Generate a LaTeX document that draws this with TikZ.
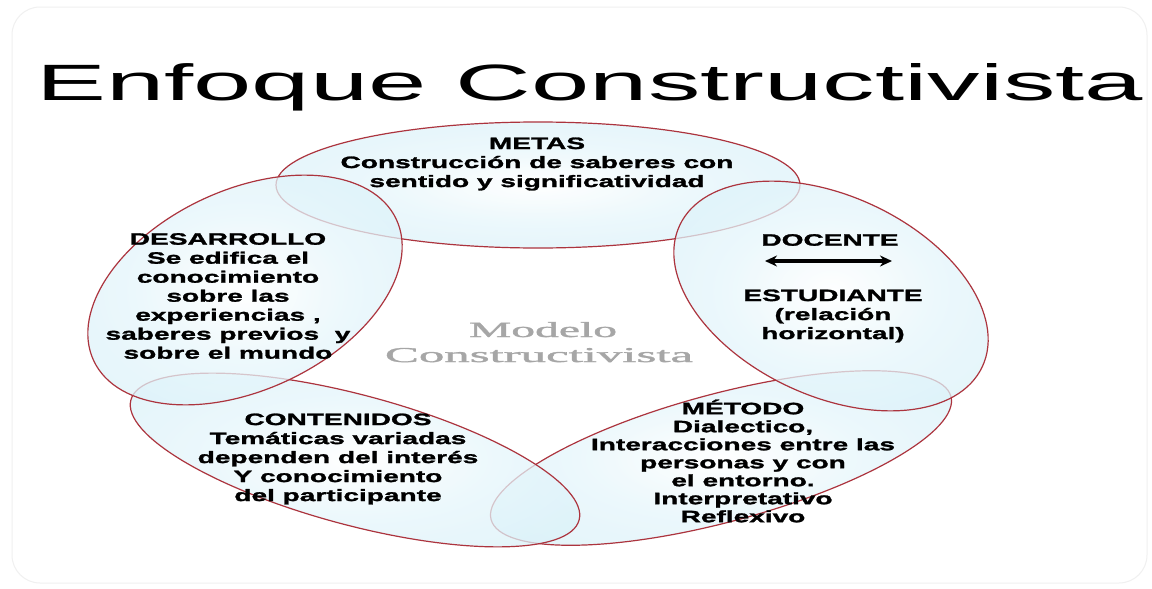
\documentclass[tikz,border=0pt]{standalone}
\usepackage{fontspec}
\usepackage{graphicx}
\usetikzlibrary{shapes.geometric,arrows.meta}
\setmainfont{Liberation Sans}
\newfontfamily\bodyfont[FakeStretch=1.7, FakeBold=1.6]{Liberation Sans Bold}
\newfontfamily\titlefont{Liberation Sans}
\newfontfamily\modelfont[FakeBold=1.2]{Liberation Serif}
\definecolor{ellred}{RGB}{172,52,62}
\definecolor{ellfill}{RGB}{204,236,246}
\definecolor{ellmid}{RGB}{230,246,251}
\pgfdeclareradialshading{ellshade}{\pgfpoint{0bp}{0bp}}{color(0bp)=(white); color(15bp)=(ellmid); color(50bp)=(ellfill); color(70bp)=(ellfill)}
\tikzset{
  ell/.style={ellipse, draw=ellred, line width=1.2pt, shade, shading=ellshade, fill opacity=0.75, draw opacity=1, inner sep=0pt},
  lbl/.style={font=\bodyfont\fontsize{16.5}{19}\selectfont, align=center, inner sep=0pt, text=black},
  modeltxt/.style={inner sep=0pt, anchor=base, text=gray!70},
  dblarrow/.style={line width=3.5pt, {Stealth[length=12pt,width=11pt]}-{Stealth[length=12pt,width=11pt]}}
}
\begin{document}
\begin{tikzpicture}[x=1pt,y=-1pt]
\useasboundingbox (0,0) rectangle (1152,589);
\fill[white] (0,0) rectangle (1152,589);
\draw[gray!12, line width=1pt, rounded corners=28pt] (12,7) rectangle (1147,583);
% title
\node[anchor=base west, inner sep=0pt] (title) at (36,100) {\resizebox{1106pt}{37pt}{\titlefont Enfoque Constructivista}};
% ellipses (bottom to top)
\node[ell, minimum width=524pt, minimum height=126pt] (metas) at (538,185) {};
\node[ell, minimum width=476pt, minimum height=128pt, rotate=15] (metodo) at (721,458) {};
\node[ell, minimum width=464pt, minimum height=130pt, rotate=-15] (contenidos) at (355,460) {};
\node[ell, minimum width=334pt, minimum height=200pt, rotate=-25] (docente) at (831,296) {};
\node[ell, minimum width=334pt, minimum height=200pt, rotate=25] (desarrollo) at (245,290) {};
% center text
\node[modeltxt] (m1) at (543,337) {\resizebox{148pt}{15pt}{\modelfont Modelo}};
\node[modeltxt] (m2) at (539,362) {\resizebox{308pt}{14pt}{\modelfont Constructivista}};
% texts
\node[lbl] (tmetas) at (537,164) {METAS\\Construcción de saberes con\\sentido y significatividad};
\node[lbl] (tdesa) at (228,296) {DESARROLLO\\Se edifica el\\conocimiento\\sobre las\\experiencias ,\\saberes previos\ \ y\\sobre el mundo};
\node[lbl] (tdoc) at (830,240) {DOCENTE};
\node[lbl] (test) at (833,316) {ESTUDIANTE\\(relación\\horizontal)};
\coordinate (al) at (765,261);
\coordinate (ar) at (892,261);
\draw[dblarrow] (al) -- (ar);
\node[lbl] (tcont) at (338,459) {CONTENIDOS\\Temáticas variadas\\dependen del interés\\Y conocimiento\\del participante};
\node[lbl, font=\bodyfont\fontsize{16.5}{18}\selectfont] (tmet) at (743,461) {MÉTODO\\Dialectico,\\Interacciones entre las\\personas y con\\el entorno.\\Interpretativo\\Reflexivo};
\end{tikzpicture}
\end{document}
